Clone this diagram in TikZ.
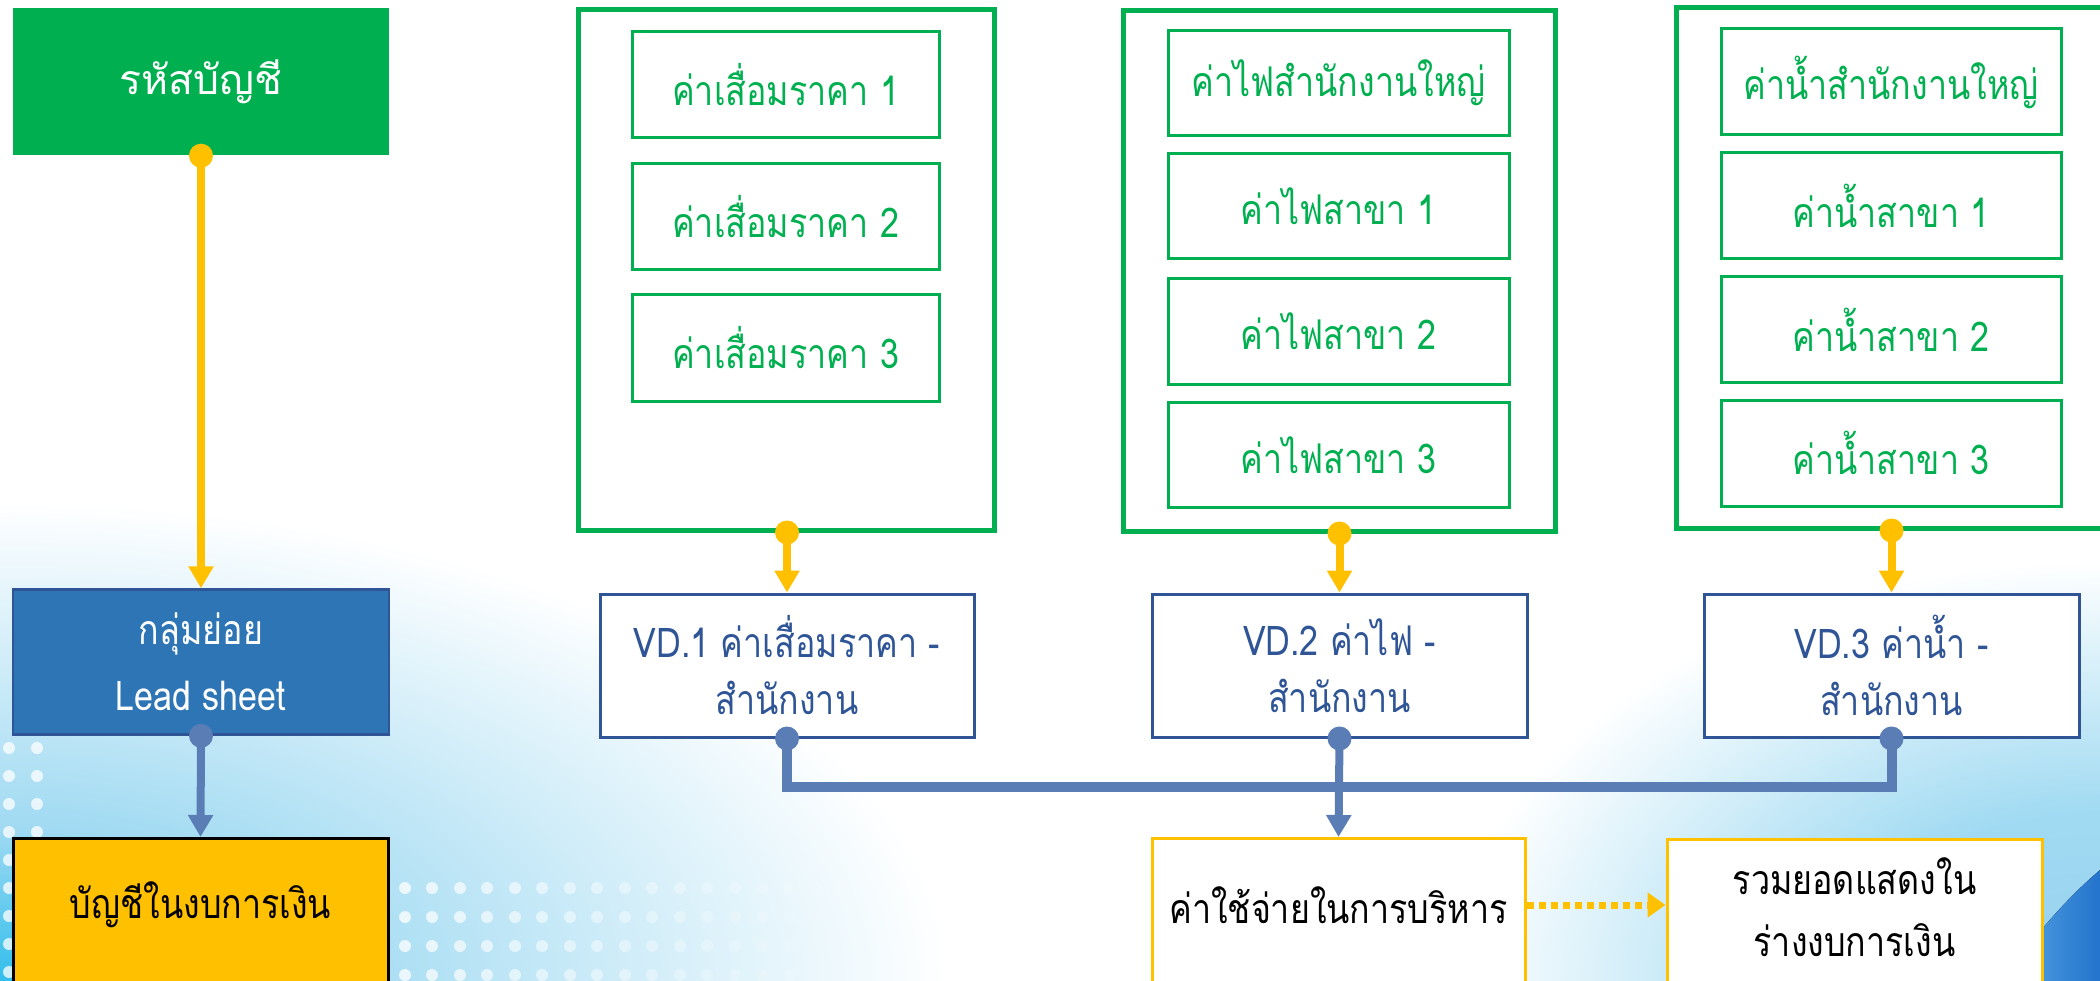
\documentclass[tikz,border=0pt]{standalone}
\usepackage{fontspec}
\newfontfamily\thai[Script=Thai, FakeStretch=0.83]{Loma}
\newfontfamily\thaiw[Script=Thai]{Loma}
\usetikzlibrary{arrows.meta,calc}
\definecolor{mygreen}{HTML}{00B050}
\definecolor{myyellow}{HTML}{FFC000}
\definecolor{leadfill}{HTML}{2E75B6}
\definecolor{vdblue}{HTML}{2F5597}
\definecolor{linkblue}{RGB}{91,125,181}
\definecolor{bgcyan}{RGB}{50,190,236}
\definecolor{bgmid}{RGB}{160,218,242}
\definecolor{bglight}{RGB}{150,208,238}
\definecolor{swA}{RGB}{90,170,230}
\definecolor{swB}{RGB}{35,115,205}
\pgfdeclareradialshading{blfade}{\pgfpoint{0bp}{0bp}}{color(0bp)=(bgcyan); color(8bp)=(bgmid); color(25bp)=(white); color(50bp)=(white)}
\pgfdeclareradialshading{brfade}{\pgfpoint{0bp}{0bp}}{color(0bp)=(bglight); color(10bp)=(bgmid); color(25bp)=(white); color(50bp)=(white)}
\tikzset{
  txt/.style={font={\thai\fontsize{41}{57}\selectfont}, inner sep=0pt, align=center},
  gouter/.style={draw=mygreen, line width=5pt, fill=white},
  ginner/.style={txt, draw=mygreen, line width=3pt, fill=white, text=mygreen},
  vdbox/.style={txt, draw=vdblue, line width=3pt, fill=white, text=vdblue},
  titlebox/.style={txt, font={\thai\fontsize{41}{66}\selectfont}, text=white},
  ybox/.style={fill=myyellow, draw=black, line width=3pt},
  wbox/.style={fill=white, draw=myyellow, line width=3pt},
  yconn/.style={draw=myyellow, line width=8pt, -{Triangle[length=22pt,width=24pt]}},
  bconn/.style={draw=linkblue, line width=8pt, -{Triangle[length=22pt,width=24pt]}},
  bus/.style={draw=linkblue, line width=10pt},
  dotarrow/.style={draw=myyellow, line width=7pt, dash pattern=on 7pt off 5pt, -{Triangle[length=18pt,width=24pt]}},
  ydot/.style={fill=myyellow},
  bdot/.style={fill=linkblue},
}
\begin{document}
\begin{tikzpicture}[x=1pt,y=-1pt]
\useasboundingbox (0,0) rectangle (2100,981);
\clip (0,0) rectangle (2100,981);
% background decoration
\shade[shading=blfade] (0,981) ellipse [x radius=950pt, y radius=480pt];
\shade[shading=brfade] (2100,981) ellipse [x radius=650pt, y radius=420pt];
\fill[left color=swA, right color=swB] (2000,981) .. controls (2040,930) and (2065,900) .. (2100,870) -- (2100,981) -- cycle;
\foreach \yy in {748,776,804,832,860,888,916,944,972}{
  \fill[white,opacity=0.75] (9,\yy) circle (6pt);
  \fill[white,opacity=0.75] (37,\yy) circle (6pt);
}
\foreach \yy in {888,917,946,975}{
  \foreach \xx [count=\i] in {405,432,460,487,515,542,570,597,625,652,680,707,735,762,790,817,845}{
    \pgfmathsetmacro{\op}{max(0.05,0.8-0.045*\i)}
    \fill[white,opacity=\op] (\xx,\yy) circle (6pt);
  }
}
% left column
\node[titlebox, font={\thaiw\fontsize{41}{66}\selectfont}, fill=mygreen, minimum width=376pt, minimum height=147pt] (A) at (201,82) {รหัสบัญชี};
\node[titlebox, fill=leadfill, draw=vdblue, line width=2.5pt, minimum width=376pt, minimum height=145pt] (B) at (201,662) {กลุ่มย่อย\\Lead sheet};
\node[ybox, minimum width=375pt, minimum height=220pt, anchor=north] (C) at (200.5,837) {};
\node[txt] (Ct) at (200.5,905) {บัญชีในงบการเงิน};
% column 2
\node[gouter, minimum width=416pt, minimum height=520pt] (G1) at (786,270) {};
\node[ginner, minimum width=307pt, minimum height=106pt] (G1a) at (785.5,85) {ค่าเสื่อมราคา 1};
\node[ginner, minimum width=307pt, minimum height=106pt] (G1b) at (785.5,216.5) {ค่าเสื่อมราคา 2};
\node[ginner, minimum width=307pt, minimum height=106pt] (G1c) at (785.5,348) {ค่าเสื่อมราคา 3};
\node[vdbox, minimum width=374pt, minimum height=143pt] (V1) at (787,665.5) {VD.1 ค่าเสื่อมราคา -\\สำนักงาน};
% column 3
\node[gouter, minimum width=432pt, minimum height=520pt] (G2) at (1339,271) {};
\node[ginner, minimum width=341pt, minimum height=105pt] (G2a) at (1338.5,83) {ค่าไฟสำนักงานใหญ่};
\node[ginner, minimum width=341pt, minimum height=105pt] (G2b) at (1338.5,206) {ค่าไฟสาขา 1};
\node[ginner, minimum width=341pt, minimum height=105pt] (G2c) at (1338.5,331.5) {ค่าไฟสาขา 2};
\node[ginner, minimum width=341pt, minimum height=105pt] (G2d) at (1338.5,455) {ค่าไฟสาขา 3};
\node[vdbox, minimum width=375pt, minimum height=143pt] (V2) at (1339.5,665.5) {VD.2 ค่าไฟ -\\สำนักงาน};
% column 4
\node[gouter, minimum width=444pt, minimum height=520pt] (G3) at (1898,268) {};
\node[ginner, minimum width=340pt, minimum height=106pt] (G3a) at (1891,82) {ค่าน้ำสำนักงานใหญ่};
\node[ginner, minimum width=340pt, minimum height=106pt] (G3b) at (1891,205.5) {ค่าน้ำสาขา 1};
\node[ginner, minimum width=340pt, minimum height=106pt] (G3c) at (1891,329.5) {ค่าน้ำสาขา 2};
\node[ginner, minimum width=340pt, minimum height=106pt] (G3d) at (1891,453) {ค่าน้ำสาขา 3};
\node[vdbox, minimum width=375pt, minimum height=143pt] (V3) at (1891.5,665.5) {VD.3 ค่าน้ำ -\\สำนักงาน};
% bottom boxes
\node[wbox, minimum width=373pt, minimum height=220pt, anchor=north] (D) at (1338.5,837) {};
\node[txt] (Dt) at (1338.5,905) {ค่าใช้จ่ายในการบริหาร};
\node[wbox, minimum width=375pt, minimum height=220pt, anchor=north] (E) at (1854.5,838) {};
\node[txt, font={\thai\fontsize{41}{62}\selectfont}] (Et) at (1854.5,907) {รวมยอดแสดงใน\\ร่างงบการเงิน};
% connectors
\draw[yconn] (A.south) -- (B.north);
\draw[bconn] (B.south) -- (C.north);
\draw[yconn] (V1.north |- G1.south) -- (V1.north);
\draw[yconn] (V2.north |- G2.south) -- (V2.north);
\draw[yconn] (V3.north |- G3.south) -- (V3.north);
\coordinate (J) at (1339.5,787);
\draw[bus] (V1.south) |- (J) -| (V3.south);
\draw[bconn] (V2.south) -- (D.north);
\draw[dotarrow] (D.east |- Dt) -- (E.west |- Dt);
% dots
\fill[ydot] (A.south) circle (12pt);
\fill[ydot] (V1.north |- G1.south) circle (12pt);
\fill[ydot] (V2.north |- G2.south) circle (12pt);
\fill[ydot] (V3.north |- G3.south) circle (12pt);
\fill[bdot] (B.south) circle (12pt);
\fill[bdot] (V1.south) circle (12pt);
\fill[bdot] (V2.south) circle (12pt);
\fill[bdot] (V3.south) circle (12pt);
\end{tikzpicture}
\end{document}
